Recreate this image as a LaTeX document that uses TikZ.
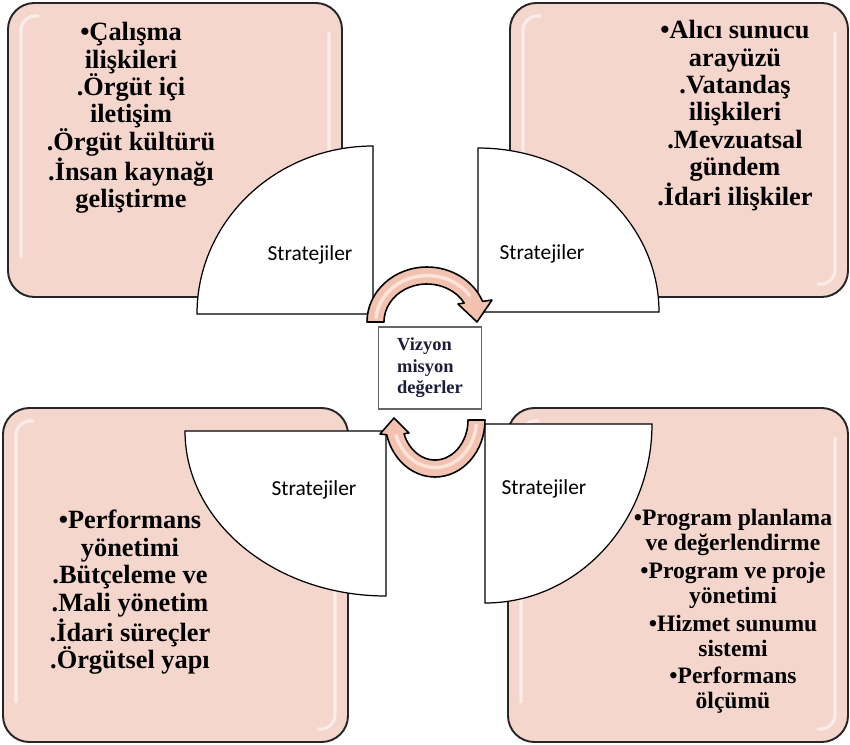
\documentclass[tikz,border=0pt]{standalone}
\usepackage{fontspec}
\setmainfont{Liberation Serif}
\newfontfamily\calibri{Carlito}
\usetikzlibrary{positioning}
\definecolor{kutupembe}{HTML}{F4D6CC}
\definecolor{okpembe}{HTML}{F2C1AF}
\definecolor{okacik}{HTML}{FBE3DA}
\definecolor{cekirdek}{HTML}{1E1E3C}
\tikzset{kutu/.style={draw=black!85, line width=1.1pt, fill=kutupembe, rounded corners=15pt},
parilti/.style={white, line width=1.8pt, line cap=round, opacity=.55, rounded corners=8pt},
dilim/.style={draw=black, line width=.7pt, fill=white},
okgovde/.style={draw=black, line width=.9pt, fill=okpembe, line join=round},
madde/.style={align=center, anchor=north, inner sep=0pt, font=\bfseries\fontsize{15}{15.6}\selectfont},
strateji/.style={font=\calibri\fontsize{12.2}{13}\selectfont, inner sep=0pt}}

\begin{document}
\begin{tikzpicture}[x=0.02cm, y=-0.02cm]
\useasboundingbox (0,0) rectangle (850,745);
%kutular
\foreach \l/\t/\r/\b in {8/3/342/297, 510/3/848/297, 3/408/348/742, 508/408/848/742} {
\draw[kutu] (\l,\t) rectangle (\r,\b);
\draw[parilti] (\l+30,\t+13) -- (\l+13,\t+13) -- (\l+13,\b-40);
\draw[parilti] (\r-13,\t+30) -- (\r-13,\b-13) -- (\r-30,\b-13);
}
%dilimler
\draw[dilim] (373,314) -- (197,314) arc[start angle=180, end angle=270, x radius=176, y radius=168] -- cycle;
\draw[dilim] (478,312) -- (478,148) arc[start angle=270, end angle=360, x radius=181, y radius=164] -- cycle;
\draw[dilim] (386,431) -- (185,431) arc[start angle=180, end angle=90, x radius=201, y radius=165] -- cycle;
\draw[dilim] (485,424) -- (652,424) arc[start angle=0, end angle=90, x radius=167, y radius=179] -- cycle;
\node[strateji] (s1) at (310,255) {Stratejiler};
\node[strateji] (s2) at (542,254) {Stratejiler};
\node[strateji] (s3) at (314,490) {Stratejiler};
\node[strateji] (s4) at (544,489) {Stratejiler};
%oklar
\draw[okgovde] (367,322) arc[start angle=180, end angle=338, x radius=60, y radius=55] -- (492,300) -- (477,322) -- (458,304) -- (464.2,303) arc[start angle=330, end angle=180, x radius=43, y radius=38] -- cycle;
\draw[okacik, line width=2pt, line cap=round] (376,318) arc[start angle=185, end angle=325, x radius=51.5, y radius=46.5];
\draw[okgovde] (485,420) arc[start angle=0, end angle=165, x radius=50, y radius=57] -- (380,434) -- (394,418) -- (409,433) -- (404,433.7) arc[start angle=160, end angle=0, x radius=33, y radius=40] -- cycle;
\draw[okacik, line width=2pt, line cap=round] (476.3,425) arc[start angle=7, end angle=160, x radius=41.5, y radius=48.5];
\node[draw=gray!80!black, line width=.6pt, fill=white, minimum width=2.06cm, minimum height=1.64cm, inner sep=0pt, align=left, text=cekirdek, font=\bfseries\fontsize{10.5}{12.2}\selectfont] (vizyon) at (430,368) {Vizyon\\misyon\\değerler};
%metinler
\node[madde] (calisma) at (131,22) {•Çalışma\\ilişkileri\\.Örgüt içi\\iletişim\\.Örgüt kültürü\\.İnsan kaynağı\\geliştirme};
\node[madde] (alici) at (735,20) {•Alıcı sunucu\\arayüzü\\.Vatandaş\\ilişkileri\\.Mevzuatsal\\gündem\\.İdari ilişkiler};
\node[madde] (performans) at (130,510) {•Performans\\yönetimi\\.Bütçeleme ve\\.Mali yönetim\\.İdari süreçler\\.Örgütsel yapı};
\node[madde, font=\bfseries\fontsize{13.4}{14.2}\selectfont] (program) at (733,509) {•Program planlama\\ve değerlendirme\\[1.6pt]•Program ve proje\\yönetimi\\[1.6pt]•Hizmet sunumu\\sistemi\\[1.6pt]•Performans\\ölçümü};
\end{tikzpicture}
\end{document}
